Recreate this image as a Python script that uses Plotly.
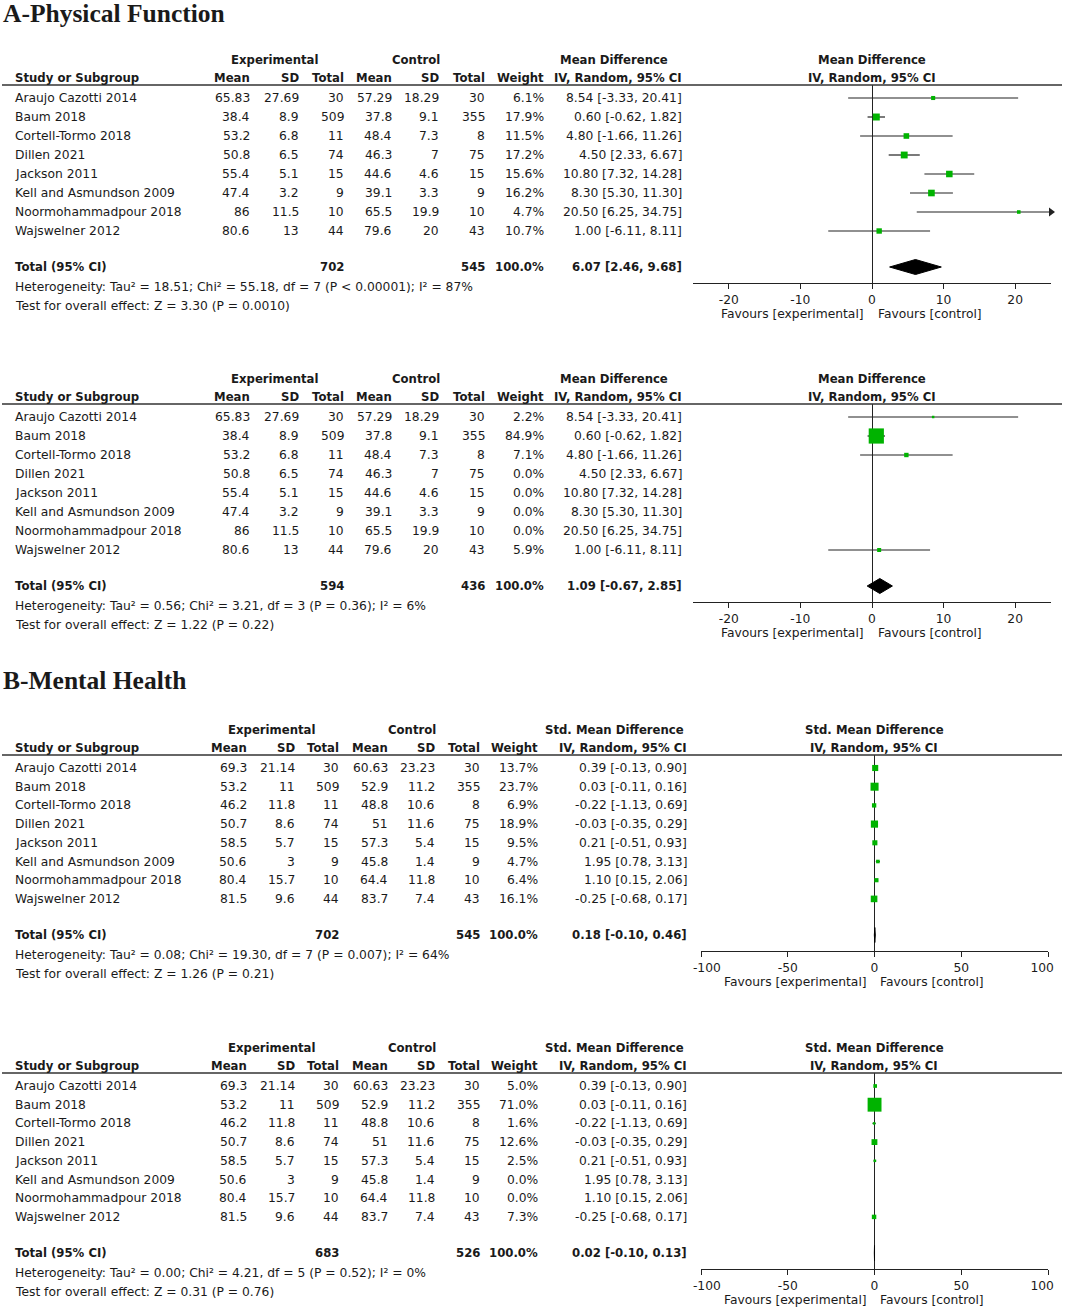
import plotly.graph_objects as go

W, H = 1065, 1310
FONT = "DejaVu Sans"
FS = 12.3
FSB = 11.7
TXT = "#1a1a1a"
GREEN = "#00b300"
LINE = "#222222"

# ---------------- data ----------------
studies = ["Araujo Cazotti 2014", "Baum 2018", "Cortell-Tormo 2018", "Dillen 2021",
           "Jackson 2011", "Kell and Asmundson 2009", "Noormohammadpour 2018", "Wajswelner 2012"]
exp_n = [30, 509, 11, 74, 15, 9, 10, 44]
ctl_n = [30, 355, 8, 75, 15, 9, 10, 43]

# A - Physical function
pf_exp_mean = [65.83, 38.4, 53.2, 50.8, 55.4, 47.4, 86, 80.6]
pf_exp_sd = [27.69, 8.9, 6.8, 6.5, 5.1, 3.2, 11.5, 13]
pf_ctl_mean = [57.29, 37.8, 48.4, 46.3, 44.6, 39.1, 65.5, 79.6]
pf_ctl_sd = [18.29, 9.1, 7.3, 7, 4.6, 3.3, 19.9, 20]
pf_md = [8.54, 0.60, 4.80, 4.50, 10.80, 8.30, 20.50, 1.00]
pf_lo = [-3.33, -0.62, -1.66, 2.33, 7.32, 5.30, 6.25, -6.11]
pf_hi = [20.41, 1.82, 11.26, 6.67, 14.28, 11.30, 34.75, 8.11]
pf1_weight = [6.1, 17.9, 11.5, 17.2, 15.6, 16.2, 4.7, 10.7]
pf2_weight = [2.2, 84.9, 7.1, 0.0, 0.0, 0.0, 0.0, 5.9]
pf1_total = [702, 545, 6.07, 2.46, 9.68]
pf2_total = [594, 436, 1.09, -0.67, 2.85]
pf1_het = "Heterogeneity: Tau² = 18.51; Chi² = 55.18, df = 7 (P < 0.00001); I² = 87%"
pf1_test = "Test for overall effect: Z = 3.30 (P = 0.0010)"
pf2_het = "Heterogeneity: Tau² = 0.56; Chi² = 3.21, df = 3 (P = 0.36); I² = 6%"
pf2_test = "Test for overall effect: Z = 1.22 (P = 0.22)"
pf_ticks = [-20, -10, 0, 10, 20]

# B - Mental health
mh_exp_mean = [69.3, 53.2, 46.2, 50.7, 58.5, 50.6, 80.4, 81.5]
mh_exp_sd = [21.14, 11, 11.8, 8.6, 5.7, 3, 15.7, 9.6]
mh_ctl_mean = [60.63, 52.9, 48.8, 51, 57.3, 45.8, 64.4, 83.7]
mh_ctl_sd = [23.23, 11.2, 10.6, 11.6, 5.4, 1.4, 11.8, 7.4]
mh_smd = [0.39, 0.03, -0.22, -0.03, 0.21, 1.95, 1.10, -0.25]
mh_lo = [-0.13, -0.11, -1.13, -0.35, -0.51, 0.78, 0.15, -0.68]
mh_hi = [0.90, 0.16, 0.69, 0.29, 0.93, 3.13, 2.06, 0.17]
mh1_weight = [13.7, 23.7, 6.9, 18.9, 9.5, 4.7, 6.4, 16.1]
mh2_weight = [5.0, 71.0, 1.6, 12.6, 2.5, 0.0, 0.0, 7.3]
mh1_total = [702, 545, 0.18, -0.10, 0.46]
mh2_total = [683, 526, 0.02, -0.10, 0.13]
mh1_het = "Heterogeneity: Tau² = 0.08; Chi² = 19.30, df = 7 (P = 0.007); I² = 64%"
mh1_test = "Test for overall effect: Z = 1.26 (P = 0.21)"
mh2_het = "Heterogeneity: Tau² = 0.00; Chi² = 4.21, df = 5 (P = 0.52); I² = 0%"
mh2_test = "Test for overall effect: Z = 0.31 (P = 0.76)"
mh_ticks = [-100, -50, 0, 50, 100]

# ---------------- helpers ----------------
fig = go.Figure()
ann = []
shapes = []


def px(x):
    return x / W


def py(y):
    return 1 - y / H


def text(x, y, s, anchor="left", bold=False, size=None, family=FONT):
    if size is None:
        size = FSB if bold else FS
    ann.append(dict(x=px(x), y=py(y), xref="paper", yref="paper",
                    text=f"<b>{s}</b>" if bold else s, showarrow=False,
                    xanchor=anchor, yanchor="middle", borderpad=0,
                    font=dict(family=family, size=size, color=TXT)))


def fmt(v):
    return f"{v:g}"


def ci_str(e, l, h):
    return f"{e:.2f} [{l:.2f}, {h:.2f}]"


GEOM_A = dict(name=14, m1=251, s1=300, n1=345, m2=393, s2=440, n2=486, w=545, ci=683,
              exp_c=275, ctl_c=416, eff_c=614, plot_c=872, spacing=19.0, row0=38,
              total=207, het=227, test=246, axis=223, fav=254, fav_r=865, fav_l=877,
              xpx=(693, 1051), xr=(-25, 25), edge_pad=0)
GEOM_B = dict(name=14, m1=248, s1=296, n1=340, m2=389, s2=436, n2=481, w=539, ci=688,
              exp_c=272, ctl_c=412, eff_c=614, plot_c=874, spacing=18.7, row0=38,
              total=205, het=225, test=244, axis=221, fav=252, fav_r=868, fav_l=879,
              xpx=(701, 1048), xr=(-100, 100), edge_pad=3)


def panel(k, top, g, eff_name, ticks, em, es, cm, cs, est, lo, hi, wt, tot, het, test):
    # table header
    text(g["exp_c"], top, "Experimental", "center", True)
    text(g["ctl_c"], top, "Control", "center", True)
    text(g["eff_c"], top, eff_name, "center", True)
    text(g["plot_c"], top, eff_name, "center", True)
    hy = top + 18
    text(g["name"], hy, "Study or Subgroup", "left", True)
    for key, lab in [("m1", "Mean"), ("s1", "SD"), ("n1", "Total"), ("m2", "Mean"),
                     ("s2", "SD"), ("n2", "Total"), ("w", "Weight"), ("ci", "IV, Random, 95% CI")]:
        text(g[key], hy, lab, "right", True)
    text(g["plot_c"], hy, "IV, Random, 95% CI", "center", True)
    rule = top + 25
    shapes.append(dict(type="line", xref="paper", yref="paper", x0=px(2), x1=px(1062),
                       y0=py(rule), y1=py(rule), line=dict(color="#333333", width=1.6)))
    rows = [top + g["row0"] + i * g["spacing"] for i in range(len(studies))]
    for i, s in enumerate(studies):
        y = rows[i]
        text(g["name"], y, s)
        text(g["m1"], y, fmt(em[i]), "right")
        text(g["s1"], y, fmt(es[i]), "right")
        text(g["n1"], y, fmt(exp_n[i]), "right")
        text(g["m2"], y, fmt(cm[i]), "right")
        text(g["s2"], y, fmt(cs[i]), "right")
        text(g["n2"], y, fmt(ctl_n[i]), "right")
        text(g["w"], y, f"{wt[i]:.1f}%", "right")
        text(g["ci"], y, ci_str(est[i], lo[i], hi[i]), "right")
    ty = top + g["total"]
    text(g["name"], ty, "Total (95% CI)", "left", True)
    text(g["n1"], ty, fmt(tot[0]), "right", True)
    text(g["n2"], ty, fmt(tot[1]), "right", True)
    text(g["w"], ty, "100.0%", "right", True)
    text(g["ci"], ty, ci_str(tot[2], tot[3], tot[4]), "right", True)
    text(g["name"], top + g["het"], het)
    text(g["name"], top + g["test"], test)
    fy = top + g["fav"]
    text(g["fav_r"], fy, "Favours [experimental]", "right")
    text(g["fav_l"], fy, "Favours [control]", "left")

    # forest plot axes
    axis_y = top + g["axis"]
    xa = f"x{2 * k + 1}"
    ya = f"y{k + 1}"
    xdom = [px(g["xpx"][0]), px(g["xpx"][1])]
    ydom = [py(axis_y), py(rule)]
    xmin, xmax = g["xr"]
    labels = [fmt(t) for t in ticks]
    pad = "&nbsp;" * g["edge_pad"]
    labels[0] = pad + labels[0]
    labels[-1] = labels[-1] + pad
    common = dict(domain=xdom, range=[xmin, xmax], tickvals=ticks, showgrid=False,
                  fixedrange=True)
    fig.layout[f"xaxis{'' if k == 0 else 2 * k + 1}"] = dict(
        **common, anchor=ya, ticktext=labels, ticks="outside", ticklabeloverflow="allow",
        ticklen=5, tickwidth=1.2, tickcolor=LINE, showline=True, linecolor=LINE,
        linewidth=1.3, zeroline=True, zerolinecolor=LINE, zerolinewidth=1.3,
        tickfont=dict(family=FONT, size=FS, color=TXT))
    fig.layout[f"xaxis{2 * k + 2}"] = dict(
        **common, anchor=ya, overlaying=xa, ticks="inside", ticklen=5, tickwidth=1.2,
        tickcolor=LINE, showticklabels=False, showline=False, zeroline=False)
    fig.layout[f"yaxis{'' if k == 0 else k + 1}"] = dict(
        domain=ydom, range=[axis_y, rule], visible=False, fixedrange=True)

    for i in range(len(studies)):
        if wt[i] <= 0:
            continue
        y = rows[i]
        if hi[i] > xmax:
            fig.add_trace(go.Scatter(x=[lo[i], xmax], y=[y, y], mode="lines",
                                     line=dict(color=LINE, width=1.2), xaxis=xa, yaxis=ya,
                                     hoverinfo="skip"))
            fig.add_trace(go.Scatter(x=[xmax], y=[y], mode="markers",
                                     marker=dict(symbol="triangle-right", size=8, color=LINE),
                                     xaxis=xa, yaxis=ya, cliponaxis=False, hoverinfo="skip"))
        else:
            fig.add_trace(go.Scatter(x=[lo[i], hi[i]], y=[y, y], mode="lines",
                                     line=dict(color=LINE, width=1.2), xaxis=xa, yaxis=ya,
                                     hoverinfo="skip"))
        size = max(2.5, 1.65 * wt[i] ** 0.5)
        fig.add_trace(go.Scatter(x=[est[i]], y=[y], mode="markers",
                                 marker=dict(symbol="square", size=size, color=GREEN,
                                             line=dict(width=0)),
                                 xaxis=xa, yaxis=ya, hoverinfo="skip"))
    hh = 7.5
    fig.add_trace(go.Scatter(x=[tot[3], tot[2], tot[4], tot[2], tot[3]],
                             y=[ty, ty - hh, ty, ty + hh, ty], mode="lines", fill="toself",
                             fillcolor="black", line=dict(color="black", width=1),
                             xaxis=xa, yaxis=ya, hoverinfo="skip"))


# titles
text(2, 13, "A-Physical Function", "left", True, 25.5, "Liberation Serif")
text(2, 680, "B-Mental Health", "left", True, 25.5, "Liberation Serif")

panel(0, 60, GEOM_A, "Mean Difference", pf_ticks, pf_exp_mean, pf_exp_sd, pf_ctl_mean,
      pf_ctl_sd, pf_md, pf_lo, pf_hi, pf1_weight, pf1_total, pf1_het, pf1_test)
panel(1, 379, GEOM_A, "Mean Difference", pf_ticks, pf_exp_mean, pf_exp_sd, pf_ctl_mean,
      pf_ctl_sd, pf_md, pf_lo, pf_hi, pf2_weight, pf2_total, pf2_het, pf2_test)
panel(2, 730, GEOM_B, "Std. Mean Difference", mh_ticks, mh_exp_mean, mh_exp_sd, mh_ctl_mean,
      mh_ctl_sd, mh_smd, mh_lo, mh_hi, mh1_weight, mh1_total, mh1_het, mh1_test)
panel(3, 1048, GEOM_B, "Std. Mean Difference", mh_ticks, mh_exp_mean, mh_exp_sd, mh_ctl_mean,
      mh_ctl_sd, mh_smd, mh_lo, mh_hi, mh2_weight, mh2_total, mh2_het, mh2_test)

fig.update_layout(width=W, height=H, margin=dict(l=0, r=0, t=0, b=0, autoexpand=False),
                  autosize=False,
                  paper_bgcolor="white", plot_bgcolor="white", showlegend=False,
                  annotations=ann, shapes=shapes)
fig.write_html("out.html", config={"displayModeBar": False, "responsive": False},
               post_script="document.body.style.margin='0';document.body.style.overflow='hidden';")
